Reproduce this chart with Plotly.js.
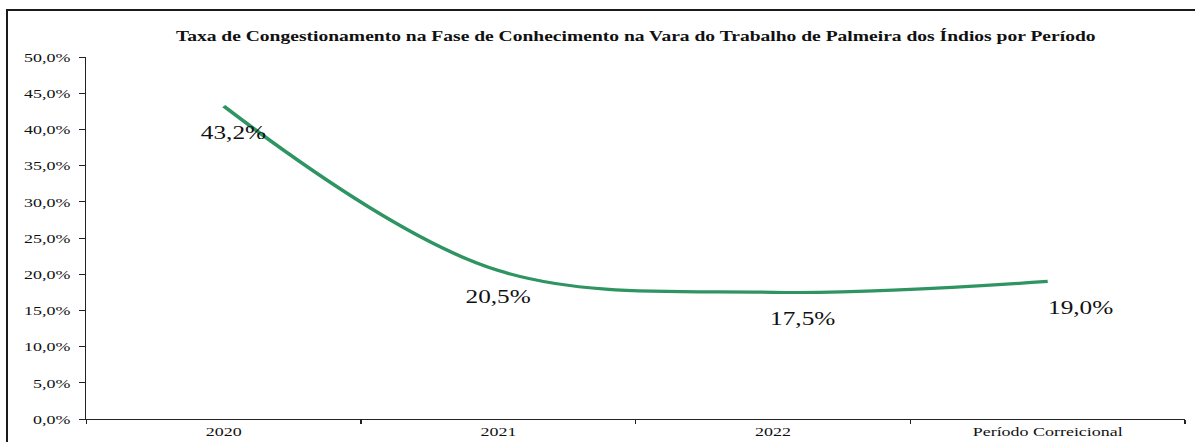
<!DOCTYPE html>
<html>
<head>
<meta charset="utf-8">
<script src="https://cdn.plot.ly/plotly-3.0.1.min.js"></script>
<style>
  html, body { margin: 0; padding: 0; background: #fff; overflow: hidden; }
  #wrap { position: absolute; left: 0; top: 0; width: 1195px; height: 442px; overflow: hidden; }
  #chart { position: absolute; left: 0; top: 0; transform-origin: 0 0; }
  #frame { position: absolute; left: 6px; top: 9px; width: 1300px; height: 600px;
           border-left: 2px solid #1a1a1a; border-top: 2px solid #1a1a1a; pointer-events: none; }
</style>
</head>
<body>
<div id="wrap">
  <div id="chart"></div>
  <div id="frame"></div>
</div>
<script>
// ---- data ----
const categories = ["2020", "2021", "2022", "Período Correicional"];
const taxa = [43.2, 20.5, 17.5, 19.0];
const yTickValues = [0, 5, 10, 15, 20, 25, 30, 35, 40, 45, 50];
const chartTitle = "Taxa de Congestionamento na Fase de Conhecimento na Vara do Trabalho de Palmeira dos Índios por Período";

// ---- layout helpers ----
const STRETCH = 1.33;              // horizontal stretch of the reference picture
const W = Math.round(1195 / STRETCH), H = 442;
const labelShiftX = [7, 0, 22, 25];
const fmt = v => v.toFixed(1).replace('.', ',') + '%';
const SERIF = "'Liberation Serif', 'Times New Roman', Times, serif";

const trace = {
  type: 'scatter',
  mode: 'lines',
  x: categories,
  y: taxa,
  line: { color: '#2e9462', width: 3.2, shape: 'spline', smoothing: 1 },
  hoverinfo: 'skip'
};

const annotations = categories.map((c, i) => ({
  x: i, y: taxa[i], xref: 'x', yref: 'y',
  text: fmt(taxa[i]), showarrow: false,
  xanchor: 'center', yanchor: 'middle',
  xshift: labelShiftX[i], yshift: -26,
  font: { family: SERIF, size: 19, color: '#111' }
}));

const layout = {
  width: W, height: H,
  margin: { l: 65, r: 7, t: 57, b: 23 },
  paper_bgcolor: '#fff', plot_bgcolor: '#fff',
  separators: ',.',
  showlegend: false,
  font: { family: SERIF, color: '#111', size: 13.5 },
  title: {
    text: '<b>' + chartTitle + '</b>',
    font: { family: SERIF, size: 14.7, color: '#111' },
    xref: 'paper', x: 0.5, xanchor: 'center',
    yref: 'container', y: 1 - 36 / H, yanchor: 'middle'
  },
  xaxis: {
    type: 'category',
    categoryorder: 'array', categoryarray: categories,
    showgrid: false, zeroline: false,
    showline: true, linecolor: '#222', linewidth: 1.3,
    ticks: 'outside', tickson: 'boundaries', ticklen: 4, tickcolor: '#222', tickwidth: 1,
    tickfont: { family: SERIF, size: 13.5 },
    range: [-0.5, 3.5]
  },
  yaxis: {
    range: [yTickValues[0], yTickValues[yTickValues.length - 1]],
    tickmode: 'array',
    tickvals: yTickValues,
    ticktext: yTickValues.map(fmt),
    showgrid: false, zeroline: false,
    showline: true, linecolor: '#222', linewidth: 1.3,
    ticks: 'outside', ticklen: 4, tickcolor: '#222', tickwidth: 1,
    ticklabelstandoff: 4,
    tickfont: { family: SERIF, size: 13.5 }
  },
  annotations: annotations
};

const el = document.getElementById('chart');
el.style.width = W + 'px';
el.style.height = H + 'px';
el.style.transform = 'scaleX(' + STRETCH + ')';
Plotly.newPlot(el, [trace], layout, { staticPlot: true, displayModeBar: false });
</script>
</body>
</html>
